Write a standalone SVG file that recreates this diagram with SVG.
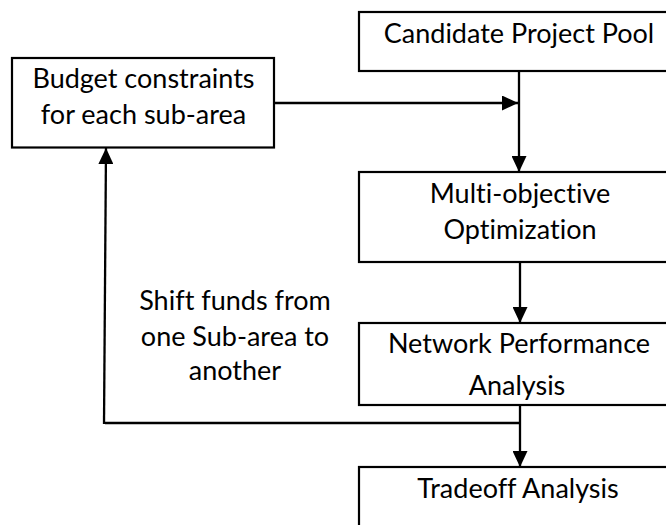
<svg xmlns="http://www.w3.org/2000/svg" width="666" height="525" viewBox="0 0 666 525">
  <style>
    .box { fill: #ffffff; stroke: #000000; stroke-width: 2.2; }
    .lbl { font-family: Lato, "Open Sans", "Liberation Sans", sans-serif; font-size: 27px; fill: #000000; text-anchor: middle; font-variant-ligatures: none; font-feature-settings: "liga" 0; }
    .wire { fill: none; stroke: #000000; stroke-width: 2.3; }
  </style>
  <defs>
    <marker id="arrow" markerUnits="userSpaceOnUse" markerWidth="16" markerHeight="15" refX="16" refY="7.5" orient="auto">
      <path d="M0,0 L16,7.5 L0,15 Z" fill="#000000"/>
    </marker>
  </defs>
  <rect width="666" height="525" fill="#ffffff"/>

  <!-- connectors -->
  <g id="connectors">
    <line class="wire" x1="519" y1="71" x2="519" y2="172" marker-end="url(#arrow)"/>
    <line class="wire" x1="274" y1="103" x2="518" y2="103" marker-end="url(#arrow)"/>
    <line class="wire" x1="520" y1="262" x2="520" y2="323" marker-end="url(#arrow)"/>
    <line class="wire" x1="520" y1="405" x2="520" y2="467" marker-end="url(#arrow)"/>
    <line class="wire" x1="520" y1="423" x2="105" y2="423"/>
    <line class="wire" x1="104" y1="424" x2="106" y2="148" marker-end="url(#arrow)"/>
  </g>

  <!-- nodes -->
  <g id="candidate-pool">
    <rect class="box" x="359" y="12" width="330" height="59"/>
    <text class="lbl" x="519" y="43">Candidate Project Pool</text>
  </g>

  <g id="budget-constraints">
    <rect class="box" x="12" y="58" width="262" height="89.5"/>
    <text class="lbl" x="143.5" y="88">Budget constraints</text>
    <text class="lbl" x="143.5" y="124">for each sub-area</text>
  </g>

  <g id="multi-objective">
    <rect class="box" x="359" y="172" width="330" height="90"/>
    <text class="lbl" x="520" y="203">Multi-objective</text>
    <text class="lbl" x="520" y="239">Optimization</text>
  </g>

  <g id="network-performance">
    <rect class="box" x="359" y="323" width="330" height="82"/>
    <text class="lbl" x="519" y="353">Network Performance</text>
    <text class="lbl" x="517" y="395">Analysis</text>
  </g>

  <g id="tradeoff">
    <rect class="box" x="359" y="467" width="330" height="80"/>
    <text class="lbl" x="518" y="498">Tradeoff Analysis</text>
  </g>

  <g id="feedback-label">
    <text class="lbl" x="235" y="310">Shift funds from</text>
    <text class="lbl" x="235" y="346">one Sub-area to</text>
    <text class="lbl" x="235" y="380">another</text>
  </g>
</svg>
